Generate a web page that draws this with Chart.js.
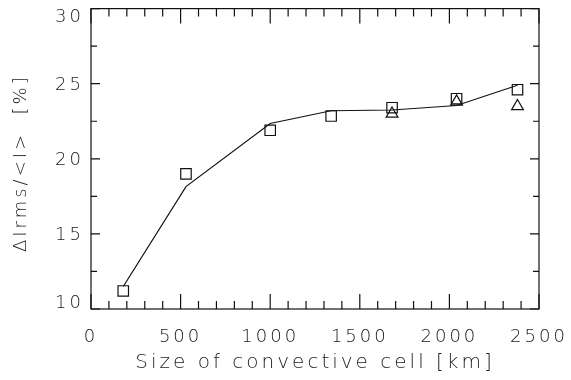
<!DOCTYPE html>
<html>
<head>
<meta charset="utf-8">
<script src="https://cdn.jsdelivr.net/npm/chart.js@4/dist/chart.umd.min.js"></script>
<style>
  html, body { margin: 0; padding: 0; background: #fff; }
  #wrap { width: 571px; height: 380px; }
</style>
</head>
<body>
<div id="wrap"><canvas id="c"></canvas></div>
<script>
// Convective cell size [km] and relative intensity fluctuation [%]
const cellSize      = [180, 530, 1000, 1340, 1680, 2040, 2380];
const rmsSquares    = [11.2, 19.0, 21.9, 22.85, 23.4, 24.0, 24.6];
const triCellSize   = [1680, 2040, 2380];
const rmsTriangles  = [23.0, 23.8, 23.5];
const fitCurve      = [11.5, 18.15, 22.35, 23.2, 23.25, 23.55, 24.9];
const xTickValues   = [0, 500, 1000, 1500, 2000, 2500];
const yTickValues   = [10, 15, 20, 25, 30];
const xTitle = 'Size of convective cell [km]';
const yTitle = 'ΔIrms/<I>  [%] ';

const toPoints = (xs, ys) => xs.map((x, i) => ({ x, y: ys[i] }));

const family = '"DejaVu Sans", sans-serif';
const TICK_FONT = { family, size: 18, weight: '200', lineHeight: '14px' };
const XTITLE_FONT = { family, size: 20, weight: '200' };
const YTITLE_FONT = { family, size: 18, weight: '200' };

// End labels of the y axis sit inside the frame
const yLabel = v => {
  if (v === yTickValues[yTickValues.length - 1]) return ['', String(v)];
  if (v === yTickValues[0]) return [String(v), ''];
  return String(v);
};

// Frame with inward major/minor ticks on all four sides
const frameTicks = {
  id: 'frameTicks',
  beforeDraw(chart) { chart.ctx.letterSpacing = '3px'; },
  afterDraw(chart) {
    const { ctx, chartArea: a, scales: { x, y } } = chart;
    ctx.save();
    ctx.strokeStyle = '#111';
    ctx.lineWidth = 1.2;
    ctx.strokeRect(a.left, a.top, a.right - a.left, a.bottom - a.top);
    ctx.beginPath();
    for (let v = x.min; v <= x.max; v += 100) {
      const px = x.getPixelForValue(v);
      const len = v % 500 === 0 ? 15 : 8;
      ctx.moveTo(px, a.bottom); ctx.lineTo(px, a.bottom - len);
      ctx.moveTo(px, a.top); ctx.lineTo(px, a.top + len);
    }
    for (let v = y.min; v <= y.max; v += 2.5) {
      const py = y.getPixelForValue(v);
      const len = v % 5 === 0 ? 9 : 6;
      ctx.moveTo(a.left, py); ctx.lineTo(a.left + len, py);
      ctx.moveTo(a.right, py); ctx.lineTo(a.right - len, py);
    }
    ctx.stroke();
    ctx.restore();
  }
};

new Chart(document.getElementById('c'), {
  type: 'scatter',
  data: {
    datasets: [
      {
        data: toPoints(cellSize, fitCurve),
        showLine: true,
        borderColor: '#111',
        borderWidth: 1.2,
        pointRadius: 0,
        tension: 0
      },
      {
        data: toPoints(cellSize, rmsSquares),
        pointStyle: 'rect',
        pointRadius: 7.4,
        borderColor: '#111',
        borderWidth: 1.2,
        backgroundColor: 'rgba(0,0,0,0)'
      },
      {
        data: toPoints(triCellSize, rmsTriangles),
        pointStyle: 'triangle',
        pointRadius: 6.8,
        borderColor: '#111',
        borderWidth: 1.2,
        backgroundColor: 'rgba(0,0,0,0)'
      }
    ]
  },
  options: {
    responsive: true,
    maintainAspectRatio: false,
    animation: false,
    devicePixelRatio: 1,
    layout: { padding: { top: 7, right: 32, left: 0, bottom: 0 } },
    plugins: { legend: { display: false }, tooltip: { enabled: false } },
    scales: {
      x: {
        type: 'linear',
        min: 0, max: 2500,
        afterBuildTicks: s => { s.ticks = xTickValues.map(v => ({ value: v })); },
        afterFit: s => { s.height = 71; s.paddingLeft = 0; s.paddingRight = 0; },
        grid: { display: false, drawTicks: false },
        border: { display: false },
        ticks: { color: '#222', font: { family, size: 18, weight: '200' }, padding: 18, maxRotation: 0, callback: v => String(v) },
        title: { display: true, text: xTitle, color: '#222', font: XTITLE_FONT, padding: { top: 0, bottom: 5 } }
      },
      y: {
        type: 'linear',
        min: 10, max: 30,
        afterBuildTicks: s => { s.ticks = yTickValues.map(v => ({ value: v })); },
        afterFit: s => { s.width = 91; s.paddingTop = 0; s.paddingBottom = 0; },
        grid: { display: false, drawTicks: false },
        border: { display: false },
        ticks: { color: '#222', font: TICK_FONT, padding: 7, labelOffset: 1.5, callback: yLabel },
        title: { display: true, text: yTitle, color: '#222', font: YTITLE_FONT, padding: { top: 11, bottom: 0 } }
      }
    }
  },
  plugins: [frameTicks]
});
</script>
</body>
</html>
